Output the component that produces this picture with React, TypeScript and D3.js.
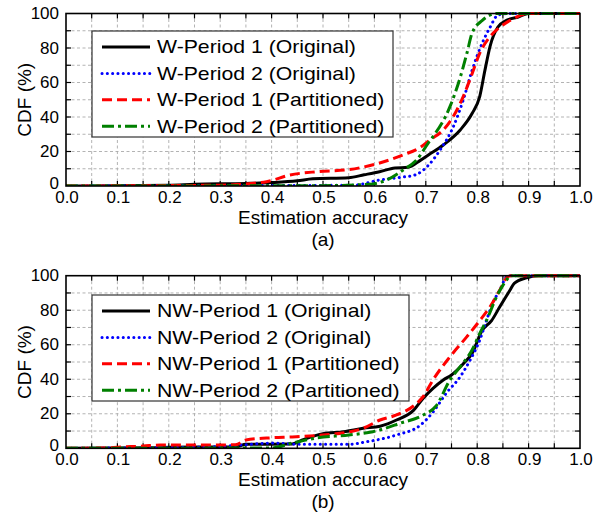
import React from 'react';
import * as d3 from 'd3';

type Pt = [number, number];

const xTickLabels = [0, 0.1, 0.2, 0.3, 0.4, 0.5, 0.6, 0.7, 0.8, 0.9, 1.0];
const yTickLabels = [0, 20, 40, 60, 80, 100];
const xGrid = [0.05, 0.1, 0.15, 0.2, 0.25, 0.3, 0.35, 0.4, 0.45, 0.5, 0.55, 0.6, 0.65, 0.7, 0.75, 0.8, 0.85, 0.9, 0.95];
const yGrid = [10, 20, 30, 40, 50, 60, 70, 80, 90];

const legendW = ['W-Period 1 (Original)', 'W-Period 2 (Original)', 'W-Period 1 (Partitioned)', 'W-Period 2 (Partitioned)'];
const legendNW = ['NW-Period 1 (Original)', 'NW-Period 2 (Original)', 'NW-Period 1 (Partitioned)', 'NW-Period 2 (Partitioned)'];

// Panel (a)
const w1Orig: Pt[] = [[0, 0], [0.2, 0.5], [0.25, 1], [0.35, 1.5], [0.4, 2], [0.45, 3], [0.48, 4.2], [0.55, 4.8], [0.58, 6.5], [0.61, 8.3], [0.64, 10.5], [0.665, 10.8], [0.69, 15], [0.705, 18], [0.734, 23.8], [0.767, 32.5], [0.79, 42], [0.805, 52], [0.815, 67], [0.825, 81], [0.84, 92], [0.857, 96], [0.88, 98], [0.9, 100], [1, 100]];
const w2Orig: Pt[] = [[0, 0], [0.45, 0.3], [0.56, 0.5], [0.61, 3.5], [0.65, 5], [0.68, 6.5], [0.705, 12], [0.728, 21], [0.753, 34], [0.773, 50], [0.79, 67], [0.81, 83], [0.825, 92], [0.84, 99], [0.86, 100], [1, 100]];
const w1Part: Pt[] = [[0, 0], [0.3, 0.5], [0.39, 2.5], [0.436, 6.4], [0.488, 8.3], [0.55, 9.5], [0.6, 12.5], [0.656, 18], [0.69, 22.5], [0.708, 26.7], [0.734, 32.5], [0.753, 40], [0.773, 52], [0.79, 65], [0.805, 77], [0.825, 86.6], [0.844, 92], [0.864, 96], [0.9, 100], [1, 100]];
const w2Part: Pt[] = [[0, 0], [0.5, 0.2], [0.59, 1], [0.624, 3.5], [0.656, 9.3], [0.682, 15], [0.705, 25], [0.714, 28.6], [0.747, 46], [0.767, 63], [0.78, 77], [0.79, 88.6], [0.81, 96], [0.838, 100], [1, 100]];

// Panel (b)
const nw1Orig: Pt[] = [[0, 0], [0.18, 0.3], [0.2, 0.6], [0.33, 0.8], [0.35, 2.3], [0.44, 2.5], [0.46, 4.8], [0.5, 8.5], [0.54, 9.6], [0.578, 11.6], [0.611, 12.8], [0.643, 16.4], [0.676, 22], [0.695, 29], [0.714, 34.7], [0.734, 39.6], [0.75, 42.5], [0.773, 49], [0.79, 55], [0.81, 68.5], [0.828, 74], [0.844, 82], [0.864, 91.7], [0.872, 95.6], [0.896, 98.8], [0.916, 100], [1, 100]];
const nw2Orig: Pt[] = [[0, 0], [0.26, 0.6], [0.34, 1.9], [0.403, 3], [0.455, 2.3], [0.55, 2.3], [0.585, 3.8], [0.643, 7.7], [0.69, 13.5], [0.714, 21], [0.74, 32], [0.767, 41.5], [0.786, 51], [0.805, 62.7], [0.818, 74], [0.83, 84], [0.844, 91.7], [0.857, 99.4], [0.86, 100], [1, 100]];
const nw1Part: Pt[] = [[0, 0], [0.08, 0.2], [0.1, 0.6], [0.15, 1.3], [0.183, 1.9], [0.33, 2], [0.35, 4.8], [0.4, 6.1], [0.44, 6.6], [0.5, 7.7], [0.553, 9.6], [0.578, 11.6], [0.611, 16.4], [0.643, 19.3], [0.676, 24.5], [0.695, 30], [0.714, 39.6], [0.747, 53], [0.78, 64.7], [0.805, 74], [0.825, 82], [0.844, 91.7], [0.858, 99], [0.865, 100], [1, 100]];
const nw2Part: Pt[] = [[0, 0], [0.4, 0.2], [0.44, 3], [0.49, 6.1], [0.55, 7.7], [0.597, 9.6], [0.65, 14.5], [0.695, 19.3], [0.72, 24.5], [0.747, 39.6], [0.767, 47.3], [0.79, 57], [0.805, 66.6], [0.818, 74], [0.838, 88], [0.857, 97.5], [0.865, 100], [1, 100]];

const seriesStyles = [
  { color: '#000000', dash: undefined as string | undefined, cap: 'butt' },
  { color: '#0000ff', dash: '0.1,5.2', cap: 'round' },
  { color: '#ff0000', dash: '10,5', cap: 'butt' },
  { color: '#008000', dash: '12,4,3,4', cap: 'butt' },
];

const X0 = 66;
const X1 = 580;

interface PanelProps {
  top: number;
  bottom: number;
  series: Pt[][];
  labels: string[];
  legendX: number;
  legendY: number;
  legendW: number;
  legendH: number;
  caption: string;
  textScale: number;
}

function Panel(p: PanelProps) {
  const x = d3.scaleLinear().domain([0, 1]).range([X0, X1]);
  const y = d3.scaleLinear().domain([0, 100]).range([p.bottom, p.top]);
  const line = d3.line<Pt>().x(d => x(d[0])).y(d => y(d[1])).curve(d3.curveMonotoneX);
  const fmt = d3.format('.1f');
  const cx = (X0 + X1) / 2;
  const cy = (p.top + p.bottom) / 2;
  const clipId = `clip-${p.caption.replace(/[()]/g, '')}`;
  return (
    <g>
      <defs>
        <clipPath id={clipId}>
          <rect x={X0} y={p.top - 2} width={X1 - X0} height={p.bottom - p.top + 2} />
        </clipPath>
      </defs>
      {xGrid.map(v => (
        <line key={'gx' + v} x1={x(v)} x2={x(v)} y1={p.top} y2={p.bottom} stroke="#aaaaaa" strokeWidth={0.9} strokeDasharray="3,2.5" />
      ))}
      {yGrid.map(v => (
        <line key={'gy' + v} x1={X0} x2={X1} y1={y(v)} y2={y(v)} stroke="#aaaaaa" strokeWidth={0.9} strokeDasharray="3,2.5" />
      ))}
      {xGrid.map(v => (
        <g key={'tx' + v}>
          <line x1={x(v)} x2={x(v)} y1={p.bottom} y2={p.bottom - 5} stroke="#000" strokeWidth={1.2} />
          <line x1={x(v)} x2={x(v)} y1={p.top} y2={p.top + 5} stroke="#000" strokeWidth={1.2} />
        </g>
      ))}
      {yGrid.map(v => (
        <g key={'ty' + v}>
          <line x1={X0} x2={X0 + 5} y1={y(v)} y2={y(v)} stroke="#000" strokeWidth={1.2} />
          <line x1={X1} x2={X1 - 5} y1={y(v)} y2={y(v)} stroke="#000" strokeWidth={1.2} />
        </g>
      ))}
      <g clipPath={`url(#${clipId})`}>
        {p.series.map((s, i) => (
          <path key={'s' + i} d={line(s) || ''} fill="none" stroke={seriesStyles[i].color} strokeWidth={3}
            strokeDasharray={seriesStyles[i].dash} strokeLinecap={seriesStyles[i].cap as any} strokeLinejoin="round" />
        ))}
      </g>
      <rect x={X0} y={p.top} width={X1 - X0} height={p.bottom - p.top} fill="none" stroke="#000" strokeWidth={1.6} />
      {xTickLabels.map(v => (
        <text key={'xl' + v} x={x(v) + 1} y={p.bottom + 17} fontSize={17} textAnchor="middle">{fmt(v)}</text>
      ))}
      {yTickLabels.map(v => (
        <text key={'yl' + v} x={X0 - 7} y={y(v) - (v === 0 ? 3 : 0)} fontSize={17} textAnchor="end" dominantBaseline="central">{v}</text>
      ))}
      <text x={cx} y={p.bottom + 38} fontSize={19} textAnchor="middle">Estimation accuracy</text>
      <text x={cx} y={p.bottom + 60} fontSize={19} textAnchor="middle">{p.caption}</text>
      <text transform={`translate(31, ${cy}) rotate(-90)`} fontSize={19} textAnchor="middle">CDF (%)</text>
      <rect x={p.legendX} y={p.legendY} width={p.legendW} height={p.legendH} fill="#fff" stroke="#333" strokeWidth={1.2} />
      {p.labels.map((lab, i) => {
        const ry = p.legendY + 16 + i * 26.4;
        return (
          <g key={'lg' + i}>
            <line x1={p.legendX + 10} x2={p.legendX + 58} y1={ry} y2={ry} stroke={seriesStyles[i].color} strokeWidth={3}
              strokeDasharray={seriesStyles[i].dash} strokeLinecap={seriesStyles[i].cap as any} />
            <text transform={`translate(${p.legendX + 65}, ${ry}) scale(${p.textScale}, 1)`} fontSize={18} dominantBaseline="central">{lab}</text>
          </g>
        );
      })}
    </g>
  );
}

export default function App() {
  return (
    <svg width={605} height={518} viewBox="0 0 605 518"
      style={{ position: 'absolute', left: 0, top: 0, background: '#fff', fontFamily: '"Liberation Sans", Arial, Helvetica, sans-serif' }}>
      <rect x={0} y={0} width={605} height={518} fill="#fff" />
      <Panel top={13.5} bottom={186} series={[w1Orig, w2Orig, w1Part, w2Part]} labels={legendW}
        legendX={92} legendY={31} legendW={301} legendH={106} caption="(a)" textScale={1.18} />
      <Panel top={275.7} bottom={448.3} series={[nw1Orig, nw2Orig, nw1Part, nw2Part]} labels={legendNW}
        legendX={92} legendY={295} legendW={317} legendH={106} caption="(b)" textScale={1.18} />
    </svg>
  );
}
